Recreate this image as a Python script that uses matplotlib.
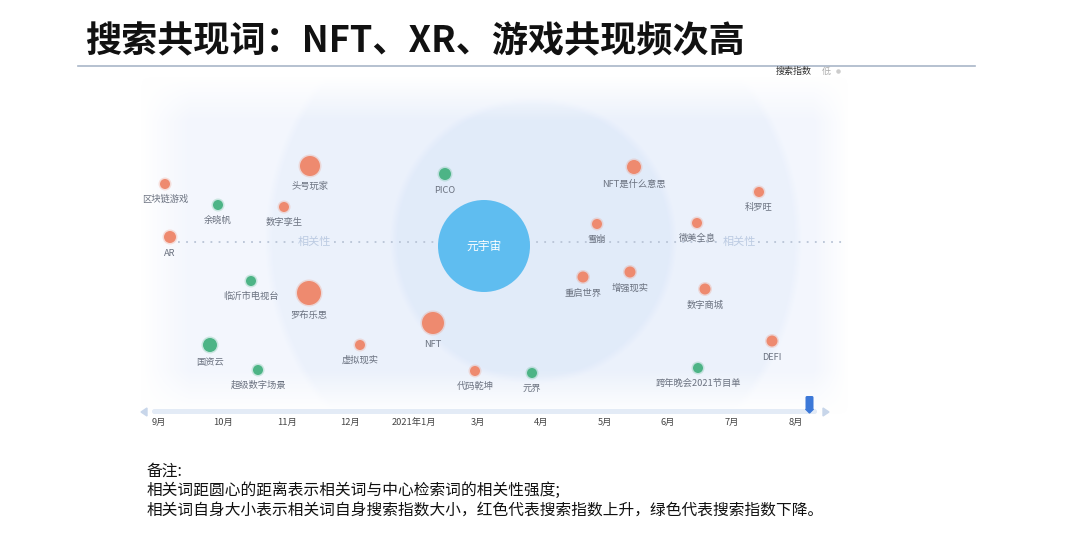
import numpy as np
import matplotlib.pyplot as plt
from matplotlib.patches import Circle, Polygon, FancyBboxPatch

plt.rcParams['font.family'] = ['Noto Sans CJK SC', 'DejaVu Sans']

# related words: position in the bubble map (chart units), bubble radius, trend
words = ['区块链游戏', '余晓帆', '头号玩家', '数字孪生', 'PICO', 'AR',
         'NFT是什么意思', '科罗旺', '雪崩', '微美全息',
         '临沂市电视台', '罗布乐思', '国资云', '超级数字场景', '虚拟现实', 'NFT',
         '代码乾坤', '元界', '重启世界', '增强现实', '数字商城', 'DEFI', '跨年晚会2021节目单']
word_x = [165, 218, 310, 284, 445, 170, 634, 759, 597, 697,
          251, 309, 210, 258, 360, 433, 475, 532, 583, 630, 705, 772, 698]
word_y = [184, 205, 166, 207, 174, 237, 167, 192, 224, 223,
          281, 293, 345, 370, 345, 323, 371, 373, 277, 272, 289, 341, 368]
search_index = [5, 5, 10, 5, 6, 6, 7, 5, 5, 5,
                5, 12, 7, 5, 5, 11, 5, 5, 5.5, 5.5, 5.5, 5.5, 5]
trend = ['up', 'down', 'up', 'up', 'down', 'up', 'up', 'up', 'up', 'up',
         'down', 'up', 'down', 'down', 'up', 'up', 'up', 'down', 'up', 'up', 'up', 'up', 'down']

center_word = '元宇宙'
center_xy = (484, 246)

months = ['9月', '10月', '11月', '12月', '2021年1月', '3月', '4月', '5月', '6月', '7月', '8月']
month_x = [159, 223, 287, 350, 414, 478, 541, 605, 668, 732, 796]

title = '搜索共现词：NFT、XR、游戏共现频次高'
notes = ['备注:',
         '相关词距圆心的距离表示相关词与中心检索词的相关性强度;',
         '相关词自身大小表示相关词自身搜索指数大小，红色代表搜索指数上升，绿色代表搜索指数下降。']

RED = '#ee8a6f'
GREEN = '#4db486'
LABEL = '#6b7280'

fig = plt.figure(figsize=(10.8, 5.47), dpi=100)
ax = fig.add_axes([0, 0, 1, 1])

# title + rule
ax.text(85, 42, title, fontsize=26, fontweight='bold', color='#111111', va='center', ha='left')
ax.plot([78, 975], [66, 66], color='#a9b6c8', lw=1.2)
ax.text(776, 71, '搜索指数', fontsize=6.5, color='#333333', va='center', ha='left')
ax.text(822, 71, '低', fontsize=6.5, color='#aaaaaa', va='center', ha='left')
ax.scatter([838], [71], s=5, color='#cccccc')

# relevance rings in the background (soft edges)
x0, x1, y0, y1 = 140, 848, 76, 414
gx, gy = np.meshgrid(np.arange(x0, x1), np.arange(y0, y1))
d = np.hypot(gx - 533, gy - 240)
inner = np.array([0.885, 0.922, 0.980])
middle = np.array([0.925, 0.947, 0.988])
outer = np.array([0.955, 0.968, 0.994])
t1 = np.clip((d - 136) / 8, 0, 1)[..., None]
t2 = np.clip((d - 261) / 8, 0, 1)[..., None]
rgb = inner * (1 - t1) + middle * t1
rgb = rgb * (1 - t2) + outer * t2
img = np.ones(gx.shape + (4,))
img[..., :3] = rgb
fade_x = np.clip((gx - x0) / 50, 0, 1) * np.clip((x1 - gx) / 35, 0, 1)
fade_y = np.clip((gy - y0) / 45, 0, 1) * np.clip((y1 - gy) / 45, 0, 1)
img[..., 3] = np.clip(fade_x * fade_y, 0, 1)
ax.imshow(img, extent=[x0, x1, y1, y0], zorder=0, interpolation='bilinear')
ax.set_xlim(0, 1080)
ax.set_ylim(547, 0)
ax.axis('off')

# relevance dotted axis
for xa, xb in [(178, 294), (334, 440), (528, 719), (758, 844)]:
    ax.plot([xa, xb], [242, 242], color='#b9c4d6', lw=1.3, ls=(0, (1, 3.5)), zorder=1)
ax.text(314, 242, '相关性', fontsize=8, color='#bccbe2', ha='center', va='center')
ax.text(739, 242, '相关性', fontsize=8, color='#bccbe2', ha='center', va='center')

# center word
ax.add_patch(Circle(center_xy, 46, color='#5fbdf0', zorder=3, lw=0))
ax.text(center_xy[0], center_xy[1], center_word, fontsize=8.5, color='white',
        ha='center', va='center', zorder=4)

# related word bubbles
for w, x, y, s, t in zip(words, word_x, word_y, search_index, trend):
    c = RED if t == 'up' else GREEN
    ax.add_patch(Circle((x, y), s + 1.5, color=c, alpha=0.25, zorder=3, lw=0))
    ax.add_patch(Circle((x, y), s, color=c, zorder=4, lw=0))
    ax.text(x, y + s + 10.5, w, fontsize=6.7, color=LABEL, ha='center', va='center', zorder=4)

# timeline
ax.add_patch(FancyBboxPatch((152, 409), 665, 5, boxstyle='round,pad=0,rounding_size=2.5',
                            color='#e3ebf6', lw=0, zorder=2))
ax.add_patch(Polygon([[141, 412], [147, 408], [147, 416]], color='#c8d6ea', zorder=2))
ax.add_patch(Polygon([[829, 412], [823, 408], [823, 416]], color='#c8d6ea', zorder=2))
ax.add_patch(FancyBboxPatch((805.5, 396), 8, 13, boxstyle='round,pad=0,rounding_size=1.5',
                            color='#3c78d8', lw=0, zorder=3))
ax.add_patch(Polygon([[805.5, 409], [813.5, 409], [809.5, 413]], color='#3c78d8', zorder=3))
for m, x in zip(months, month_x):
    ax.text(x, 422, m, fontsize=6.7, color='#444444', ha='center', va='center')

# notes
for i, line in enumerate(notes):
    ax.text(147, 471 + 19.7 * i, line, fontsize=11.3, color='#111111', ha='left', va='center')

fig.savefig('out.png', dpi=100, facecolor='white')
